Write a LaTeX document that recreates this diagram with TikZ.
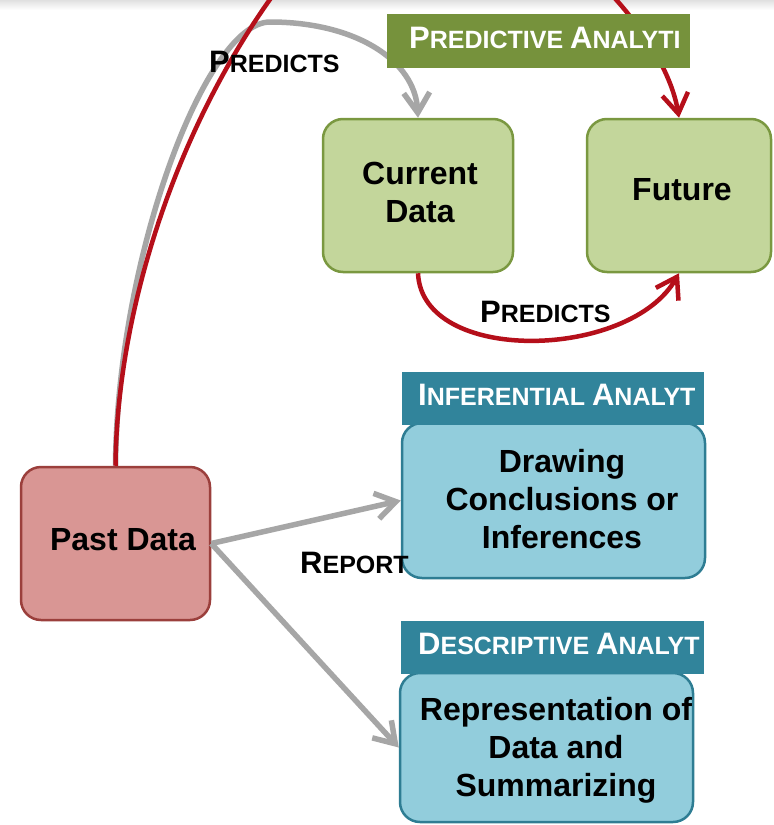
\documentclass[tikz,border=0pt]{standalone}
\usepackage{fontspec}
\setmainfont{Liberation Sans}
\usetikzlibrary{arrows.meta}
\definecolor{hdrgreen}{HTML}{76923C}
\definecolor{boxgreen}{HTML}{C3D69B}
\definecolor{edgegreen}{HTML}{7A9840}
\definecolor{hdrblue}{HTML}{31849B}
\definecolor{boxblue}{HTML}{92CDDC}
\definecolor{edgeblue}{HTML}{2E7D93}
\definecolor{boxred}{HTML}{D99694}
\definecolor{edgered}{HTML}{9B3F3C}
\definecolor{linered}{HTML}{B50F1A}
\definecolor{linegray}{HTML}{A6A6A6}
\newcommand\fsc[2]{{\fontsize{31}{31}\selectfont #1}{\fontsize{25}{25}\selectfont #2}}
\tikzset{
  databox/.style={draw, line width=2.5pt, rounded corners=20pt, inner sep=0pt},
  hdrbox/.style={inner sep=0pt, minimum height=54pt},
  hdrtext/.style={inner sep=0pt, anchor=base west, text=white, font=\bfseries},
  boxtxt/.style={inner sep=0pt, align=center, font=\fontsize{32}{38}\selectfont\bfseries},
  lbl/.style={inner sep=0pt, anchor=base west, font=\bfseries},
  graycon/.style={draw=linegray, line width=5.5pt, -{Straight Barb[length=20pt,width=26pt]}},
  redcon/.style={draw=linered, line width=4.5pt, -{Straight Barb[length=20pt,width=26pt]}},
}
\begin{document}
\begin{tikzpicture}[x=1pt,y=-1pt]
\useasboundingbox (0,0) rectangle (774,825);
\clip (0,0) rectangle (774,825);
\fill[white] (0,0) rectangle (774,825);
\shade[top color=black!12, bottom color=white] (0,0) rectangle (774,10);

% boxes
\node[databox, fill=boxgreen, draw=edgegreen, minimum width=190pt, minimum height=153pt] (cur) at (418,195.5) {};
\node[databox, fill=boxgreen, draw=edgegreen, minimum width=184pt, minimum height=153pt] (fut) at (679,195.5) {};
\node[databox, fill=boxred, draw=edgered, minimum width=189pt, minimum height=153pt] (past) at (115.5,543.5) {};
\node[databox, fill=boxblue, draw=edgeblue, minimum width=303pt, minimum height=155pt] (drw) at (553.5,500.5) {};
\node[databox, fill=boxblue, draw=edgeblue, minimum width=293pt, minimum height=149pt] (rep) at (546.5,747.5) {};

% box texts
\node[boxtxt] (tcur) at (420,192) {Current\\Data};
\node[boxtxt] (tfut) at (682,190) {Future};
\node[boxtxt] (tpast) at (123,540) {Past Data};
\node[boxtxt] (tdrw) at (562,499) {Drawing\\Conclusions or\\Inferences};
\node[boxtxt] (trep) at (556,750) {Representation of\\Data and\\Summarizing};

% connectors
\draw[graycon] (past.north) .. controls (117,260) and (205,22) .. (270,22)
   .. controls (355,22) and (415,60) .. (cur.north);
\draw[redcon] (past.north) .. controls (117,300) and (185,100) .. (300,-40)
   .. controls (438,-208) and (660,0) .. (fut.north);
\draw[redcon] (cur.south) .. controls (422,365) and (630,360) .. (fut.south);
\draw[graycon] (past.east) -- (drw.west);
\draw[graycon] (past.east) -- (rep.west);

% headers
\node[hdrbox, fill=hdrgreen, minimum width=303pt] (hpred) at (538.5,41) {};
\node[hdrbox, fill=hdrblue, minimum width=302pt, minimum height=53pt] (hinf) at (553,398.5) {};
\node[hdrbox, fill=hdrblue, minimum width=303pt, minimum height=53pt] (hdes) at (552.5,647.5) {};
\begin{scope}
\clip (hpred.south west) rectangle (hpred.north east);
\node[hdrtext] (tpred) at (409,48) {\fsc{P}{REDICTIVE }\fsc{A}{NALYTI}};
\end{scope}
\begin{scope}
\clip (hinf.south west) rectangle (hinf.north east);
\node[hdrtext] (tinf) at (418,405) {\fsc{I}{NFERENTIAL }\fsc{A}{NALYT}};
\end{scope}
\begin{scope}
\clip (hdes.south west) rectangle (hdes.north east);
\node[hdrtext] (tdes) at (418,654) {\fsc{D}{ESCRIPTIVE }\fsc{A}{NALYT}};
\end{scope}

% labels
\node[lbl] (lp1) at (209,72) {\fsc{P}{REDICTS}};
\node[lbl] (lp2) at (480,322) {\fsc{P}{REDICTS}};
\node[lbl] (lrep) at (300,573) {\fsc{R}{EPORT}};
\end{tikzpicture}
\end{document}
